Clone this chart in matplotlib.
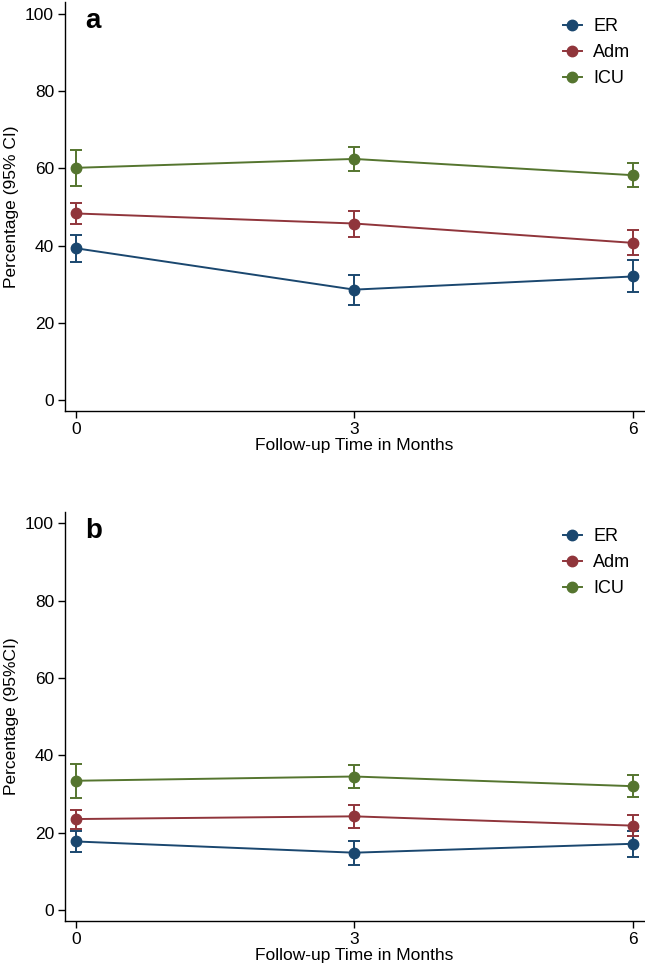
import matplotlib.pyplot as plt
from matplotlib.lines import Line2D

# follow-up time points (months)
months = [0, 3, 6]
tick_labels = ["0", "3", "6"]
groups = ["ER", "Adm", "ICU"]
colors = {"ER": "#1a476f", "Adm": "#90353b", "ICU": "#55752f"}

# panel a: percentage with 95% CI
a_mean = {"ER": [39.3, 28.6, 32.0], "Adm": [48.3, 45.7, 40.7], "ICU": [60.1, 62.4, 58.2]}
a_low = {"ER": [35.8, 24.7, 27.9], "Adm": [45.5, 42.3, 37.5], "ICU": [55.5, 59.2, 55.1]}
a_high = {"ER": [42.8, 32.5, 36.2], "Adm": [51.1, 49.0, 44.0], "ICU": [64.8, 65.6, 61.4]}

# panel b
b_mean = {"ER": [17.7, 14.8, 17.1], "Adm": [23.5, 24.2, 21.8], "ICU": [33.4, 34.5, 32.0]}
b_low = {"ER": [15.0, 11.7, 13.7], "Adm": [21.0, 21.3, 19.0], "ICU": [29.0, 31.4, 29.1]}
b_high = {"ER": [20.4, 17.9, 20.5], "Adm": [25.9, 27.1, 24.5], "ICU": [37.8, 37.6, 34.9]}

plt.rcParams['font.family'] = ['Liberation Sans Narrow', 'Liberation Sans', 'DejaVu Sans']

fig = plt.figure(figsize=(6.45, 9.69), dpi=100)
ax_a = fig.add_axes([0.101, 0.576, 0.897, 0.422])
ax_b = fig.add_axes([0.101, 0.050, 0.897, 0.422])


def draw_panel(ax, mean, low, high, letter, ylabel):
    handles = []
    for g in groups:
        err = [[m - l for m, l in zip(mean[g], low[g])],
               [h - m for m, h in zip(mean[g], high[g])]]
        ax.errorbar(months, mean[g], yerr=err, color=colors[g], marker="o",
                    markersize=7.5, linewidth=1.4, elinewidth=1.4, capsize=4,
                    capthick=1.4)
        handles.append(Line2D([], [], color=colors[g], marker="o", markersize=7.5,
                              linewidth=1.4, label=g))
    ax.set_xlim(-0.115, 6.12)
    ax.set_ylim(-2.75, 103)
    ax.set_xticks(months)
    ax.set_xticklabels(tick_labels)
    ax.set_yticks([0, 20, 40, 60, 80, 100])
    ax.tick_params(labelsize=12.5, length=5, width=1, direction="out", pad=3)
    for s in ["top", "right"]:
        ax.spines[s].set_visible(False)
    for s in ["left", "bottom"]:
        ax.spines[s].set_linewidth(1)
    ax.set_xlabel("Follow-up Time in Months", fontsize=12.5, labelpad=1)
    ax.set_ylabel(ylabel, fontsize=12.5, labelpad=4)
    ax.text(0.035, 0.985, letter, transform=ax.transAxes, fontsize=20,
            fontweight="bold", va="top", ha="left", family=['Liberation Sans', 'DejaVu Sans'])
    ax.legend(handles=handles, loc="upper right", frameon=False, fontsize=13,
              handlelength=1.1, handletextpad=0.6, labelspacing=0.5,
              bbox_to_anchor=(1.005, 1.0))


draw_panel(ax_a, a_mean, a_low, a_high, "a", "Percentage (95% CI)")
draw_panel(ax_b, b_mean, b_low, b_high, "b", "Percentage (95%CI)")

fig.savefig("out.png", dpi=100)
